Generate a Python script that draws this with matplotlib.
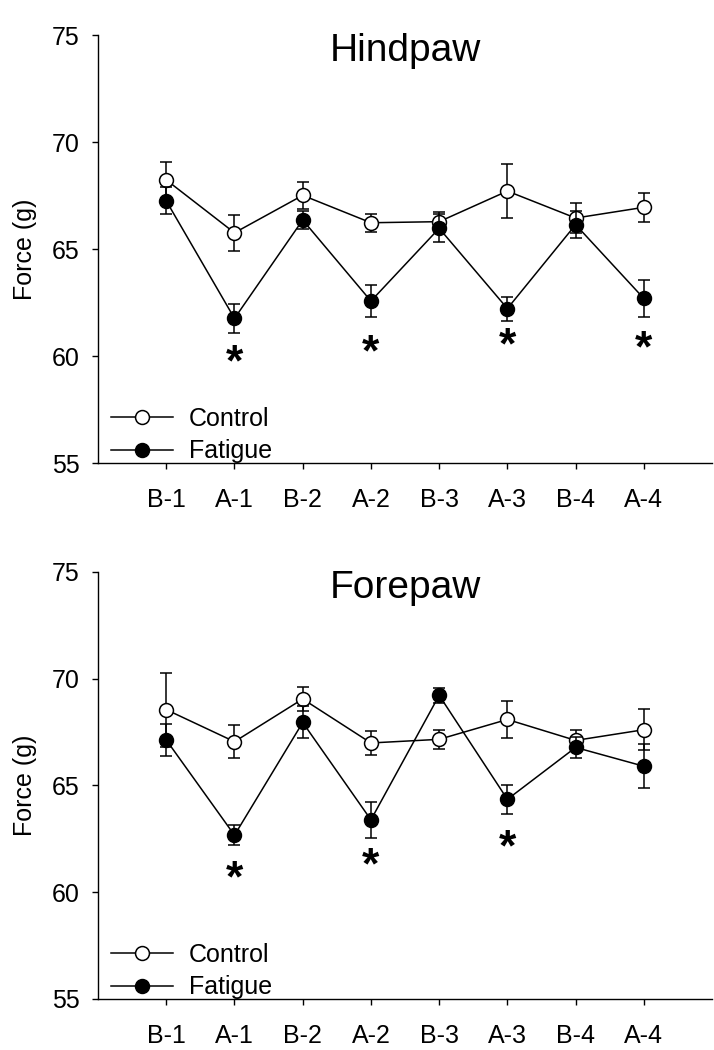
import numpy as np
import matplotlib
matplotlib.use("Agg")
import matplotlib.pyplot as plt

plt.rcParams['font.family'] = ['Liberation Sans', 'DejaVu Sans']

categories = ["B-1", "A-1", "B-2", "A-2", "B-3", "A-3", "B-4", "A-4"]

hind_control = [68.23, 65.76, 67.51, 66.23, 66.28, 67.71, 66.45, 66.95]
hind_control_err = [0.84, 0.83, 0.64, 0.43, 0.44, 1.28, 0.70, 0.68]
hind_fatigue = [67.25, 61.76, 66.36, 62.57, 65.97, 62.22, 66.14, 62.69]
hind_fatigue_err = [0.63, 0.67, 0.40, 0.74, 0.66, 0.56, 0.64, 0.85]
hind_star_cats = ["A-1", "A-2", "A-3", "A-4"]
hind_star_y = [60.04, 60.50, 60.80, 60.66]

fore_control = [68.55, 67.05, 69.05, 66.99, 67.16, 68.09, 67.11, 67.61]
fore_control_err = [1.73, 0.76, 0.58, 0.56, 0.46, 0.85, 0.47, 0.97]
fore_fatigue = [67.13, 62.67, 67.95, 63.39, 69.22, 64.35, 66.78, 65.90]
fore_fatigue_err = [0.77, 0.48, 0.75, 0.84, 0.36, 0.68, 0.49, 1.02]
fore_star_cats = ["A-1", "A-2", "A-3"]
fore_star_y = [60.97, 61.59, 62.40]

yticks = [55, 60, 65, 70, 75]

fig = plt.figure(figsize=(7.14, 10.5), dpi=100)
ax1 = fig.add_axes([0.1373, 0.5590, 0.86, 0.4076])
ax2 = fig.add_axes([0.1373, 0.0486, 0.86, 0.4067])

x = np.arange(1, len(categories) + 1)


def draw(ax, title, ctrl, ctrl_err, fat, fat_err, star_cats, star_y):
    ax.errorbar(x, ctrl, yerr=ctrl_err, color='black', lw=1.1, elinewidth=1.1,
                capsize=4.5, capthick=1.1, marker='o', ms=10, mfc='white',
                mec='black', mew=1.1, label='Control', zorder=2)
    ax.errorbar(x, fat, yerr=fat_err, color='black', lw=1.1, elinewidth=1.1,
                capsize=4.5, capthick=1.1, marker='o', ms=10, mfc='black',
                mec='black', mew=1.1, label='Fatigue', zorder=3)
    for c, yv in zip(star_cats, star_y):
        xi = categories.index(c) + 1
        ax.annotate('*', xy=(xi, yv), xytext=(0, -6), textcoords='offset points',
                    fontsize=32, fontweight='bold', ha='center', va='center')
    ax.set_xlim(0, 9)
    ax.set_ylim(55, 75)
    ax.set_yticks(yticks)
    ax.set_xticks(x)
    ax.set_xticklabels(categories)
    ax.tick_params(axis='both', labelsize=18, direction='out', length=4, width=1.0)
    ax.tick_params(axis='x', pad=14)
    ax.tick_params(axis='y', pad=9)
    ax.spines['top'].set_visible(False)
    ax.spines['right'].set_visible(False)
    ax.spines['left'].set_linewidth(1.0)
    ax.spines['bottom'].set_linewidth(1.0)
    ax.set_ylabel('Force (g)', fontsize=18, labelpad=11)
    ax.text(0.50, 0.940, title, transform=ax.transAxes, fontsize=28,
            ha='center', va='baseline')
    handles, labels = ax.get_legend_handles_labels()
    ax.legend([h[0] for h in handles], labels, loc='lower left',
              bbox_to_anchor=(0.0, -0.03), frameon=False, fontsize=18,
              handlelength=2.5, handletextpad=0.64, labelspacing=0.33,
              borderaxespad=0.2, borderpad=0.3)


draw(ax1, 'Hindpaw', hind_control, hind_control_err, hind_fatigue,
     hind_fatigue_err, hind_star_cats, hind_star_y)
draw(ax2, 'Forepaw', fore_control, fore_control_err, fore_fatigue,
     fore_fatigue_err, fore_star_cats, fore_star_y)

fig.savefig('out.png', dpi=100)
